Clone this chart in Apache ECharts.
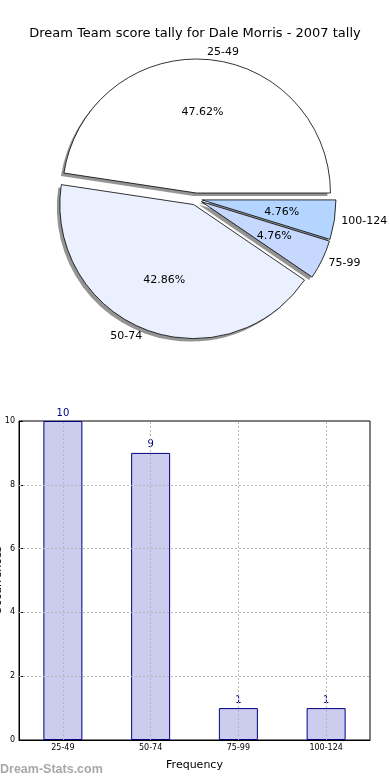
<!DOCTYPE html>
<html><head><meta charset="utf-8">
<script src="https://cdn.jsdelivr.net/npm/echarts@6/dist/echarts.min.js"></script>
<style>html,body{margin:0;padding:0;background:#fff}#c{width:390px;height:780px}</style>
</head><body><div id="c"></div>
<script>
const titleText = 'Dream Team score tally for Dale Morris - 2007 tally';
const categories = ['25-49', '50-74', '75-99', '100-124'];
const counts = [10, 9, 1, 1];
const sliceColors = ['#ffffff', '#eaf0fe', '#c7d8ff', '#b3d5ff'];
const yTicks = [2, 4, 6, 8];
const xName = 'Frequency';
const yName = 'Occurrences';
const watermark = 'Dream-Stats.com';

const font = 'DejaVu Sans';
const chart = echarts.init(document.getElementById('c'), null, {renderer: 'canvas'});

const pieData = categories.map((c, i) => ({
  name: c, value: counts[i], selected: true,
  itemStyle: {color: sliceColors[i]}
}));
const plainData = categories.map((c, i) => ({name: c, value: counts[i], selected: true}));

const center = [196, 199];
const R = 134;
const OFF = 6;

chart.setOption({
  animation: false,
  title: {text: titleText, left: 'center', top: 22,
    textStyle: {fontFamily: font, fontSize: 13, fontWeight: 'normal', color: '#000'}},
  graphic: [{type: 'text', left: 0, top: 763,
    style: {text: watermark, fontFamily: 'Liberation Sans', fontSize: 12.5, fontWeight: 'bold', fill: '#a8a8a8'}}],
  grid: {left: 19, right: 20, top: 421, bottom: 40, outerBoundsMode: 'none', containLabel: false,
    show: true, borderColor: '#000', borderWidth: 1, backgroundColor: 'transparent'},
  xAxis: {type: 'category', data: categories, name: xName, nameLocation: 'middle', nameGap: 20,
    nameMoveOverlap: false,
    nameTextStyle: {fontFamily: font, fontSize: 11, color: '#000'},
    axisLine: {show: true, lineStyle: {color: '#000'}},
    axisTick: {show: true, inside: true, alignWithLabel: true, length: 4, lineStyle: {color: '#000'}},
    axisLabel: {fontFamily: font, fontSize: 8, color: '#000', margin: 4},
    splitLine: {show: false}},
  yAxis: {type: 'value', min: 0, max: 10, interval: 2, name: yName, nameLocation: 'middle', nameGap: 15,
    nameMoveOverlap: false,
    nameTextStyle: {fontFamily: font, fontSize: 11, color: '#000'},
    axisLine: {show: true, lineStyle: {color: '#000'}},
    axisTick: {show: true, inside: true, length: 4, lineStyle: {color: '#000'}},
    axisLabel: {fontFamily: font, fontSize: 8, color: '#000', margin: 4},
    splitLine: {show: false}},
  series: [
    {type: 'pie', center: [center[0] - 3, center[1] + 3], radius: [0, R], startAngle: 0, clockwise: false,
      selectedMode: 'multiple', selectedOffset: OFF, silent: true,
      data: plainData,
      itemStyle: {color: 'rgba(0,0,0,0.42)', borderWidth: 0},
      label: {show: false}, labelLine: {show: false},
      emphasis: {disabled: true}},
    {type: 'pie', center: center, radius: [0, R], startAngle: 0, clockwise: false,
      selectedMode: 'multiple', selectedOffset: OFF, silent: true,
      data: pieData,
      itemStyle: {borderColor: '#000', borderWidth: 0.8},
      label: {show: true, position: 'outside', alignTo: 'none', overflow: 'none',
        fontFamily: font, fontSize: 11, color: '#000', distanceToLabelLine: 0},
      labelLine: {show: false, length: 7, length2: 0},
      emphasis: {disabled: true}},
    {type: 'pie', center: center, radius: [R * 0.36, R * 0.8], startAngle: 0, clockwise: false,
      selectedMode: 'multiple', selectedOffset: OFF, silent: true,
      data: plainData,
      itemStyle: {color: 'rgba(0,0,0,0)', borderWidth: 0},
      label: {show: true, position: 'inside', fontFamily: font, fontSize: 11, color: '#000',
        formatter: p => p.percent.toFixed(2) + '%'},
      labelLine: {show: false},
      emphasis: {disabled: true}},
    {type: 'bar', data: counts, barWidth: 39, silent: true,
      itemStyle: {color: '#ccccee', borderColor: '#000080', borderWidth: 1},
      label: {show: true, position: 'top', distance: 3, fontFamily: font, fontSize: 10, color: '#000080'},
      markLine: {silent: true, symbol: 'none', label: {show: false},
        lineStyle: {color: '#b8b8b8', type: [2, 2], width: 1},
        data: categories.map(c => ({xAxis: c})).concat(yTicks.map(v => ({yAxis: v})))}}
  ]
});
</script></body></html>
